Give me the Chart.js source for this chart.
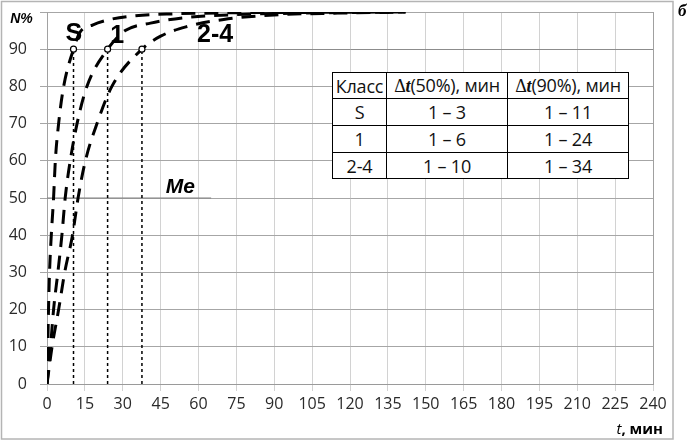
<!DOCTYPE html>
<html>
<head>
<meta charset="utf-8">
<script src="https://cdn.jsdelivr.net/npm/chart.js@4/dist/chart.umd.min.js"></script>
<style>
  html, body { margin: 0; padding: 0; background: #fff; }
  #wrap { position: relative; width: 687px; height: 441px; overflow: hidden; }
  #c { position: absolute; left: 0; top: 0; }
  #tbl { position: absolute; left: 332px; top: 72px; border-collapse: collapse; background: #fff;
         font-family: 'Open Sans', sans-serif; font-size: 18px; color: #111; letter-spacing: -0.2px; }
  #tbl td { border: 1px solid #000; text-align: center; padding: 0; line-height: 1; white-space: nowrap; }
  .dl { font-family: 'Liberation Serif', serif; }
</style>
</head>
<body>
<div id="wrap">
  <canvas id="c" width="687" height="441"></canvas>
  <table id="tbl"></table>
</div>
<script>
// ---- data ----
const xTicks = [0,15,30,45,60,75,90,105,120,135,150,165,180,195,210,225,240];
const yTicks = [0,10,20,30,40,50,60,70,80,90,100];

const tS  = [0,0.3,0.6,1.0,1.7,2.6,3.3,4.6,6.6,10.5,13,18,25,35,50,75,105,142];
const nS  = [0,10,20,30,40,50,60,70,80,90,94.5,96.5,98,99,99.5,99.8,99.9,100];

const t1  = [0,1.4,2.6,4.3,5.9,7.2,9.2,11.9,15.8,24,31,41,55,75,100,142];
const n1  = [0,10,20,30,40,50,60,70,80,90,95,97,98.5,99.3,99.7,100];

const t24 = [0,2,4.6,7,10.1,12.3,15.2,19.8,25.7,37.6,45,55,70,90,115,142];
const n24 = [0,10,20,30,40,50,60,70,80,90,93.5,96,98,99.2,99.7,100];

const t90 = [10.5, 24, 37.6];   // time at 90% for S, 1, 2-4
const level90 = 90;
const medianLevel = 50;
const medianEnd = 65;

const tableHead = ['Класс', '(50%), мин', '(90%), мин'];
const tableClasses = ['S', '1', '2-4'];
const dt50 = ['1 – 3', '1 – 6', '1 – 10'];
const dt90 = ['1 – 11', '1 – 24', '1 – 34'];

// ---- table ----
(function buildTable(){
  const tbl = document.getElementById('tbl');
  const colW = [54, 121, 121];
  const rowH = [26, 27, 27, 26];
  let html = '<tr>';
  tableHead.forEach((h, i) => {
    const txt = i === 0 ? h : '<span class="dl">Δ<b><i>t</i></b></span>' + h;
    html += `<td style="width:${colW[i]-1}px;height:${rowH[0]-1}px">${txt}</td>`;
  });
  html += '</tr>';
  tableClasses.forEach((c, r) => {
    html += '<tr>';
    [c, dt50[r], dt90[r]].forEach((v, i) => {
      html += `<td style="width:${colW[i]-1}px;height:${rowH[r+1]-1}px">${v}</td>`;
    });
    html += '</tr>';
  });
  tbl.innerHTML = html;
})();

const toXY = (xs, ys) => xs.map((x, i) => ({x, y: ys[i]}));

const curveStyle = {
  borderColor: '#000', borderWidth: 3, borderDash: [14, 9], pointRadius: 0,
  fill: false, cubicInterpolationMode: 'monotone', order: 1
};

const datasets = [
  Object.assign({label: 'S', data: toXY(tS, nS)}, curveStyle),
  Object.assign({label: '1', data: toXY(t1, n1)}, curveStyle),
  Object.assign({label: '2-4', data: toXY(t24, n24)}, curveStyle),
];
t90.forEach((t, i) => {
  datasets.push({
    label: 'v' + i, data: [{x: t, y: 0}, {x: t, y: level90}],
    borderColor: '#000', borderWidth: 1.5, borderDash: [3, 3], pointRadius: 0, order: 2
  });
});
datasets.push({
  label: 'Me', data: [{x: 0, y: medianLevel}, {x: medianEnd, y: medianLevel}],
  borderColor: '#808080', borderWidth: 1.2, pointRadius: 0, order: 3
});
datasets.push({
  label: 'p90', data: t90.map(t => ({x: t, y: level90})), showLine: false,
  pointRadius: 3, pointBackgroundColor: '#fff', pointBorderColor: '#000', pointBorderWidth: 1.2, order: 0
});

const extras = {
  id: 'extras',
  beforeDraw(chart) {
    const ctx = chart.ctx;
    ctx.save();
    ctx.fillStyle = '#fff';
    ctx.fillRect(0, 0, chart.width, chart.height);
    ctx.strokeStyle = '#b4b4b4';
    ctx.lineWidth = 1.5;
    ctx.strokeRect(1.5, 1.5, 671.5, 437.5);
    ctx.restore();
  },
  afterDatasetsDraw(chart) {
    const ctx = chart.ctx, xs = chart.scales.x, ys = chart.scales.y;
    ctx.save();
    ctx.fillStyle = '#000';
    ctx.textAlign = 'center';
    ctx.textBaseline = 'middle';
    ctx.font = 'bold 25px "Liberation Sans", Arial, sans-serif';
    ctx.fillText('S', xs.getPixelForValue(10.6), ys.getPixelForValue(94));
    ctx.fillText('1', xs.getPixelForValue(27.8), ys.getPixelForValue(93.4));
    ctx.fillText('2-4', xs.getPixelForValue(66.6), ys.getPixelForValue(93.7));
    ctx.font = 'italic bold 21px "Liberation Sans", Arial, sans-serif';
    ctx.fillText('Me', xs.getPixelForValue(52.8), ys.getPixelForValue(52.8));
    // N% label
    ctx.font = 'italic bold 14px "Liberation Sans", Arial, sans-serif';
    ctx.fillText('N%', 21.5, 19);
    // x title: "t, мин"
    ctx.textAlign = 'left';
    ctx.textBaseline = 'alphabetic';
    const yb = 434;
    ctx.font = 'bold 15px "Open Sans", sans-serif';
    const w2 = ctx.measureText(', мин').width;
    ctx.font = 'italic 15px "Open Sans", sans-serif';
    const w1 = ctx.measureText('t').width;
    const xr = 663;
    ctx.fillText('t', xr - w2 - w1, yb);
    ctx.font = 'bold 15px "Open Sans", sans-serif';
    ctx.fillText(', мин', xr - w2, yb);
    // corner letter
    ctx.font = 'italic bold 17px "Liberation Serif", serif';
    ctx.fillText('б', 678, 16);
    ctx.restore();
  }
};

new Chart(document.getElementById('c'), {
  type: 'line',
  data: { datasets },
  plugins: [extras],
  options: {
    responsive: false,
    animation: false,
    events: [],
    layout: { padding: { left: 0, right: 34, top: 12, bottom: 0 } },
    plugins: { legend: { display: false }, tooltip: { enabled: false } },
    scales: {
      x: {
        type: 'linear', min: 0, max: 240,
        afterBuildTicks: s => { s.ticks = xTicks.map(v => ({value: v})); },
        afterFit: s => { s.height = 57; s.paddingLeft = 0; s.paddingRight = 0; },
        grid: {
          color: c => (c.tick && c.tick.value === 240) ? '#a0a0a0' : '#d2d2d2',
          tickColor: '#d2d2d2', tickLength: 7, lineWidth: 1
        },
        border: { color: '#9a9a9a' },
        ticks: { color: '#2a2a2a', font: { family: 'Open Sans', size: 16 }, padding: 4, maxRotation: 0, autoSkip: false }
      },
      y: {
        type: 'linear', min: 0, max: 100,
        afterBuildTicks: s => { s.ticks = yTicks.map(v => ({value: v})); },
        afterFit: s => { s.width = 47; s.paddingTop = 0; s.paddingBottom = 0; },
        grid: {
          color: c => (c.tick && c.tick.value === 90) ? '#8c8c8c' : '#a6a6a6',
          tickColor: '#a6a6a6', tickLength: 7, lineWidth: 1
        },
        border: { color: '#a2a2a2' },
        ticks: {
          color: '#2a2a2a', font: { family: 'Open Sans', size: 16 }, padding: 13,
          callback: v => v === 100 ? '' : v
        }
      }
    }
  }
});
</script>
</body>
</html>
